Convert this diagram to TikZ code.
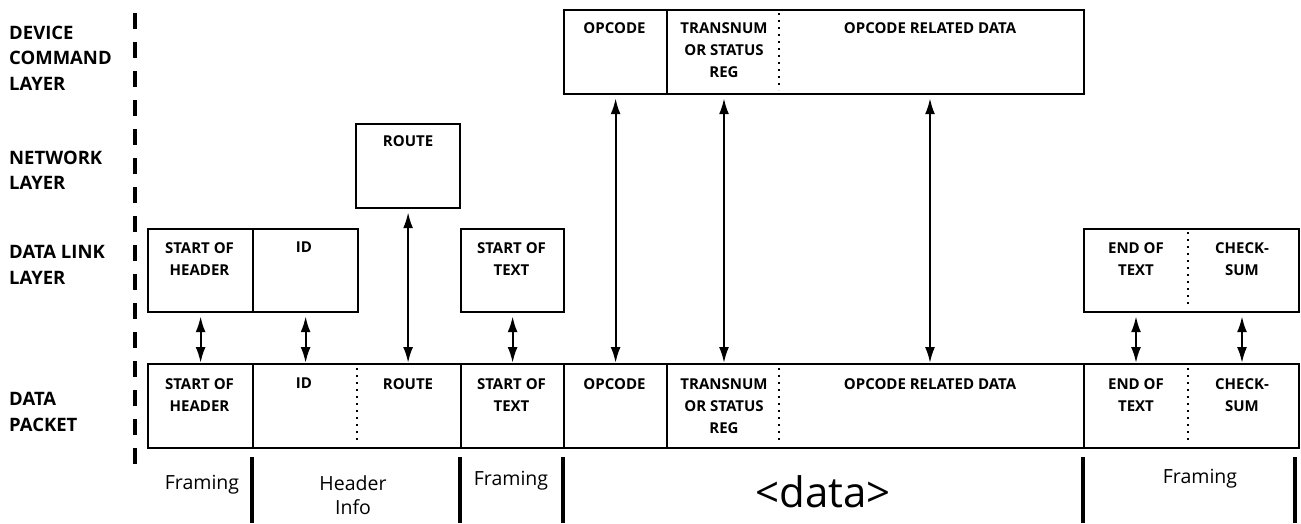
\documentclass[tikz,border=0pt]{standalone}
\usepackage{fontspec}
\setmainfont{Open Sans}
\usetikzlibrary{arrows.meta}

\tikzset{
  box/.style={draw, line width=2.2pt, inner sep=0pt, minimum height=84pt, anchor=north west},
  ftext/.style={font=\fontsize{15}{22}\selectfont\bfseries, align=center, anchor=north, inner sep=0pt},
  layer/.style={font=\fontsize{18.5}{25.5}\selectfont\bfseries, align=left, anchor=north west, inner sep=0pt},
  group/.style={font=\fontsize{19.5}{24}\selectfont, align=center, anchor=north, inner sep=0pt},
  link/.style={line width=2.2pt, {Latex[length=16pt,width=10pt]}-{Latex[length=16pt,width=10pt]}, shorten <=3pt},
  sep/.style={line width=2.2pt, dash pattern=on 2pt off 5pt},
  bar/.style={line width=4.5pt},
}

\begin{document}
\begin{tikzpicture}[x=1pt, y=-1pt]
    \useasboundingbox (0,0) rectangle (1301,523);

    % Layer names and the dashed rule
    \node[layer] (ldev) at (9,25.5) {DEVICE\\COMMAND\\LAYER};
    \node[layer] (lnet) at (9,150.5) {NETWORK\\LAYER};
    \node[layer] (ldl) at (9,245.5) {DATA LINK\\LAYER};
    \node[layer] (lpk) at (9,392.5) {DATA\\PACKET};
    \draw[line width=4pt, dash pattern=on 16pt off 13pt] (135,13) -- (135,470);

    % Device command layer
    \node[box, minimum width=103pt] (tA) at (563,9) {};
    \node[box, minimum width=417pt] (tB) at (666,9) {};
    \draw[sep] (779,13) -- (779,90);
    \node[ftext] (topc) at (614.5,22) {OPCODE};
    \node[ftext] (ttr) at (724,22) {TRANSNUM\\OR STATUS\\REG};
    \node[ftext] (tord) at (930,22) {OPCODE RELATED DATA};

    % Network layer
    \node[box, minimum width=104pt] (rt) at (355,123) {};
    \node[ftext] (trt) at ([yshift=-12pt]rt.north) {ROUTE};

    % Data link layer
    \node[box, minimum width=105pt, minimum height=83pt] (dA) at (147,228) {};
    \node[box, minimum width=105pt, minimum height=83pt] (dB) at (252,228) {};
    \node[box, minimum width=103pt, minimum height=83pt] (dC) at (460,228) {};
    \node[box, minimum width=215pt, minimum height=83pt] (dD) at (1083,228) {};
    \draw[sep] (1188,232) -- (1188,307);
    \node[ftext] (dsoh) at (199.5,242) {START OF\\HEADER};
    \node[ftext] (did) at (304,242) {ID};
    \node[ftext] (dstx) at (511.5,242) {START OF\\TEXT};
    \node[ftext] (detx) at (1136,242) {END OF\\TEXT};
    \node[ftext] (dcks) at (1242,242) {CHECK-\\SUM};

    % Data packet
    \node[box, minimum width=105pt] (pA) at (147,363) {};
    \node[box, minimum width=208pt] (pB) at (252,363) {};
    \node[box, minimum width=103pt] (pC) at (460,363) {};
    \node[box, minimum width=103pt] (pD) at (563,363) {};
    \node[box, minimum width=417pt] (pE) at (666,363) {};
    \node[box, minimum width=215pt] (pF) at (1083,363) {};
    \draw[sep] (357,368) -- (357,444);
    \draw[sep] (779,368) -- (779,444);
    \draw[sep] (1188,368) -- (1188,444);
    \node[ftext] (psoh) at (199.5,378) {START OF\\HEADER};
    \node[ftext] (pid) at (304,378) {ID};
    \node[ftext] (prt) at (408,378) {ROUTE};
    \node[ftext] (pstx) at (511.5,378) {START OF\\TEXT};
    \node[ftext] (popc) at (614.5,378) {OPCODE};
    \node[ftext] (ptr) at (724,378) {TRANSNUM\\OR STATUS\\REG};
    \node[ftext] (pord) at (930,378) {OPCODE RELATED DATA};
    \node[ftext] (petx) at (1136,378) {END OF\\TEXT};
    \node[ftext] (pcks) at (1242,378) {CHECK-\\SUM};

    % Arrows between the layers and the packet
    \draw[link] (dA.south) -- (pA.north);
    \draw[link] (dB.south) -- (dB.south |- pB.north);
    \draw[link] (rt.south) -- (rt.south |- pB.north);
    \draw[link] (dC.south) -- (pC.north);
    \draw[link] (tA.south) -- (pD.north);
    \draw[link] (ttr |- tB.south) -- (ttr |- pE.north);
    \draw[link] (tord |- tB.south) -- (tord |- pE.north);
    \draw[link] (detx |- dD.south) -- (detx |- pF.north);
    \draw[link] (dcks |- dD.south) -- (dcks |- pF.north);

    % Groups under the packet
    \foreach \bx in {252,460,563,1083,1295} {
        \draw[bar] (\bx,457) -- (\bx,523);
      }
    \node[group] (gfr1) at (202,475) {Framing};
    \node[group] (ghdr) at (353,475) {Header\\Info};
    \node[group] (gfr2) at (511,471) {Framing};
    \node[group, font=\fontsize{42}{44}\selectfont, anchor=center] (gdat) at (823,492) {<data>};
    \node[group] (gfr3) at (1200,469) {Framing};
  \end{tikzpicture}
\end{document}
